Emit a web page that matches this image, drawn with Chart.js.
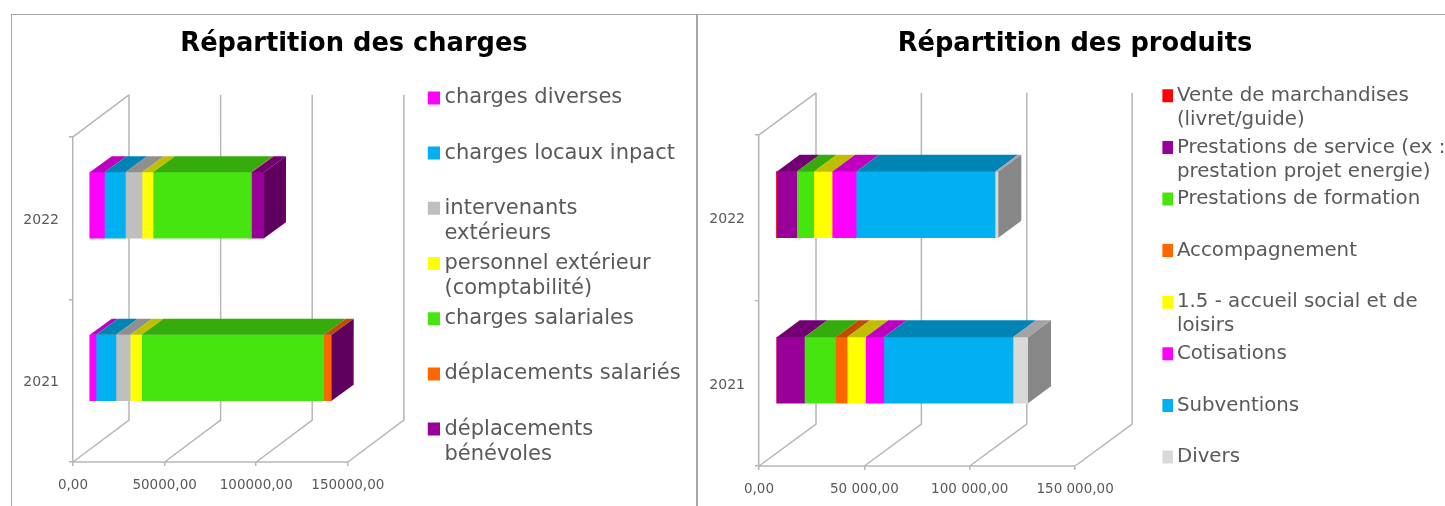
<!DOCTYPE html>
<html lang="fr">
<head>
<meta charset="utf-8">
<title>Répartition des charges et des produits</title>
<script src="https://cdn.jsdelivr.net/npm/chart.js@4"></script>
<style>
    html, body { margin: 0; background: #fff; overflow: hidden; width: 1445px; height: 506px; }
    .panel { position: absolute; top: 14px; border-top: 1px solid #a6a6a6; }
    #panel-charges { left: 11px; border-left: 1px solid #a6a6a6; }
    #panel-produits { left: 696px; border-left: 2px solid #a6a6a6; }
    canvas { display: block; }
</style>
</head>
<body>
<div class="panel" id="panel-charges"><canvas id="chart-charges" width="684" height="526"></canvas></div>
<div class="panel" id="panel-produits"><canvas id="chart-produits" width="747" height="551"></canvas></div>
<script>
const years = ['2022', '2021'];
const tickValues = [0, 50000, 100000, 150000];

// Charges
const chargesTicks = ['0,00', '50000,00', '100000,00', '150000,00'];
const chargesLegend = [
    ['charges diverses', ''],
    ['charges locaux inpact', ''],
    ['intervenants', 'extérieurs'],
    ['personnel extérieur', '(comptabilité)'],
    ['charges salariales', ''],
    ['déplacements salariés', ''],
    ['déplacements', 'bénévoles']
];
const chargesColors = ['#FF00FF', '#00B0F0', '#BFBFBF', '#FFFF00', '#46E510', '#FF6600', '#990099'];
const chargesDiverses = [8400, 3800];
const chargesLocaux = [11450, 10900];
const chargesIntervenants = [9100, 7800];
const chargesPersonnel = [6000, 6200];
const chargesSalariales = [53300, 99450];
const chargesDeplSalaries = [550, 4200];
const chargesDeplBenevoles = [6700, 100];

// Produits
const produitsTicks = ['0,00', '50 000,00', '100 000,00', '150 000,00'];
const produitsLegend = [
    ['Vente de marchandises', '(livret/guide)'],
    ['Prestations de service (ex :', 'prestation projet energie)'],
    ['Prestations de formation', ''],
    ['Accompagnement', ''],
    ['1.5 - accueil social et de', 'loisirs'],
    ['Cotisations', ''],
    ['Subventions', ''],
    ['Divers', '']
];
const produitsColors = ['#FF0000', '#990099', '#46E510', '#FF6600', '#FFFF00', '#FF00FF', '#00B0F0', '#D9D9D9'];
const produitsVente = [320, 0];
const produitsService = [9500, 13460];
const produitsFormation = [8080, 14730];
const produitsAccompagnement = [0, 5540];
const produitsAccueil = [8710, 8710];
const produitsCotisations = [11400, 8710];
const produitsSubventions = [65900, 61300];
const produitsDivers = [1580, 7130];

const gridColor = '#b6b6b6';
const textColor = '#595959';
const fontFamily = '"DejaVu Sans", sans-serif';

function shade(hex, f) {
    const n = parseInt(hex.slice(1), 16);
    const c = [n >> 16 & 255, n >> 8 & 255, n & 255].map(v => Math.round(v * f));
    return `rgb(${c[0]},${c[1]},${c[2]})`;
}

// Fake Excel 3D look: back walls behind the bars, bars pushed in depth, top and side faces
const wall3d = {
    id: 'wall3d',
    afterLayout(chart, args, opts) {
        // the legend gets squeezed to a quarter of the canvas, put it where the text fits
        chart.legend.left = opts.legendLeft;
        chart.legend.right = chart.width;
        chart.titleBlock.left += opts.titleShift;
        chart.titleBlock.right += opts.titleShift;
    },
    beforeDatasetsDraw(chart, args, opts) {
        const { ctx, chartArea, scales } = chart;
        const { top, bottom, left } = chartArea;
        ctx.save();
        ctx.strokeStyle = gridColor;
        ctx.lineWidth = 1.5;
        ctx.beginPath();
        ctx.moveTo(left, bottom);
        ctx.lineTo(scales.x.getPixelForValue(150000), bottom);
        ctx.moveTo(left, top);
        ctx.lineTo(left + opts.wallX, top - opts.wallY);
        scales.x.ticks.forEach(t => {
            const px = scales.x.getPixelForValue(t.value);
            ctx.moveTo(px, bottom);
            ctx.lineTo(px + opts.wallX, bottom - opts.wallY);
            ctx.lineTo(px + opts.wallX, top - opts.wallY);
        });
        ctx.stroke();
        ctx.restore();

        ctx.save();
        ctx.translate(opts.barX, -opts.barY);
    },
    afterDatasetsDraw(chart, args, opts) {
        const { ctx } = chart;
        const last = {};
        chart.data.datasets.forEach((ds, i) => {
            chart.getDatasetMeta(i).data.forEach((el, j) => {
                if (!ds.data[j]) return;
                const p = el.getProps(['x', 'y', 'base', 'height'], true);
                const y0 = p.y - p.height / 2;
                ctx.fillStyle = shade(ds.backgroundColor, 0.75);
                ctx.beginPath();
                ctx.moveTo(p.base, y0);
                ctx.lineTo(p.base + opts.depthX, y0 - opts.depthY);
                ctx.lineTo(p.x + opts.depthX, y0 - opts.depthY);
                ctx.lineTo(p.x, y0);
                ctx.closePath();
                ctx.fill();
                last[j] = { p, color: ds.backgroundColor };
            });
        });
        Object.values(last).forEach(({ p, color }) => {
            const y0 = p.y - p.height / 2;
            ctx.fillStyle = shade(color, 0.62);
            ctx.beginPath();
            ctx.moveTo(p.x, y0);
            ctx.lineTo(p.x + opts.depthX, y0 - opts.depthY);
            ctx.lineTo(p.x + opts.depthX, y0 - opts.depthY + p.height);
            ctx.lineTo(p.x, y0 + p.height);
            ctx.closePath();
            ctx.fill();
        });
        ctx.restore();
    }
};

function makeChart(id, o) {
    new Chart(document.getElementById(id), {
        type: 'bar',
        data: {
            labels: years,
            datasets: o.series.map((data, i) => ({
                label: o.legend[i].join(' ').trim(),
                data,
                backgroundColor: o.colors[i],
                borderWidth: 0,
                barThickness: 66
            }))
        },
        plugins: [wall3d],
        options: {
            indexAxis: 'y',
            responsive: false,
            animation: false,
            plugins: {
                tooltip: { enabled: false },
                title: {
                    display: true,
                    text: o.title,
                    color: '#000',
                    font: { family: fontFamily, size: 25.7, weight: 'bold', lineHeight: 1.2 },
                    padding: o.titlePadding
                },
                legend: {
                    position: 'right',
                    labels: {
                        color: textColor,
                        font: { family: fontFamily, size: o.legendSize, lineHeight: o.legendLine },
                        // text sits fontSize/2 after the box, so keep the box thin and grow it with the stroke
                        boxWidth: 1,
                        boxHeight: 1,
                        padding: o.legendPadding,
                        generateLabels: chart => chart.data.datasets.map((ds, i) => ({
                            text: o.legend[i],
                            fillStyle: ds.backgroundColor,
                            strokeStyle: ds.backgroundColor,
                            lineWidth: 12,
                            fontColor: textColor,
                            datasetIndex: i
                        }))
                    }
                },
                wall3d: o.depth
            },
            scales: {
                x: {
                    stacked: true,
                    min: 0,
                    max: o.xMax,
                    // max only leaves room for the legend, ticks stop at 150000
                    afterBuildTicks: scale => { scale.ticks = tickValues.map(value => ({ value })); },
                    afterFit: scale => { scale.height = o.axisHeight; },
                    grid: { drawOnChartArea: false, color: gridColor, tickLength: 4, lineWidth: 1.5 },
                    border: { display: false },
                    ticks: {
                        color: textColor,
                        padding: 11,
                        autoSkip: false,
                        maxRotation: 0,
                        font: { family: fontFamily, size: 13.5 },
                        callback: (v, i) => o.ticks[i]
                    }
                },
                y: {
                    stacked: true,
                    afterFit: scale => { scale.width = o.axisWidth; },
                    grid: { drawOnChartArea: false, color: gridColor, tickLength: 4, lineWidth: 1.5 },
                    border: { color: gridColor, width: 1.5 },
                    ticks: {
                        color: textColor,
                        padding: 10,
                        labelOffset: 2,
                        font: { family: fontFamily, size: 14 }
                    }
                }
            }
        }
    });
}

makeChart('chart-charges', {
    title: 'Répartition des charges',
    titlePadding: { top: 14, bottom: 77 },
    legend: chargesLegend,
    legendSize: 21,
    legendLine: 25 / 21,
    legendPadding: 5.2,
    colors: chargesColors,
    series: [chargesDiverses, chargesLocaux, chargesIntervenants, chargesPersonnel, chargesSalariales, chargesDeplSalaries, chargesDeplBenevoles],
    ticks: chargesTicks,
    xMax: 246700,
    axisWidth: 61,
    axisHeight: 79,
    depth: { wallX: 56, wallY: 42, barX: 16, barY: 13, depthX: 22, depthY: 16, legendLeft: 415.8, titleShift: 0 }
});

makeChart('chart-produits', {
    title: 'Répartition des produits',
    titlePadding: { top: 14, bottom: 75 },
    legend: produitsLegend,
    legendSize: 19.8,
    legendLine: 24 / 19.8,
    legendPadding: 3.6,
    colors: produitsColors,
    series: [produitsVente, produitsService, produitsFormation, produitsAccompagnement, produitsAccueil, produitsCotisations, produitsSubventions, produitsDivers],
    ticks: produitsTicks,
    xMax: 236900,
    axisWidth: 61,
    axisHeight: 100,
    depth: { wallX: 57, wallY: 42, barX: 17, barY: 13, depthX: 23, depthY: 17, legendLeft: 464.4, titleShift: 3.5 }
});
</script>
</body>
</html>
